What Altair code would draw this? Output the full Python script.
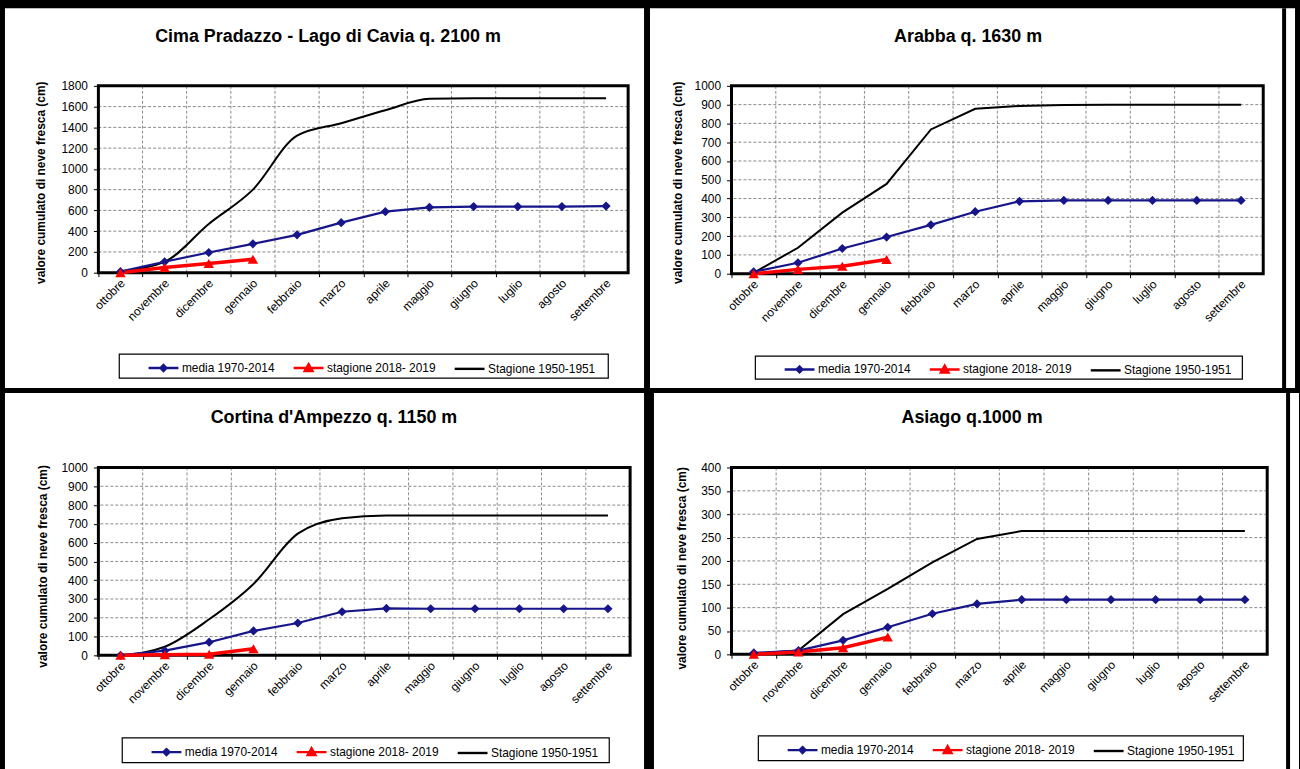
import json
import altair as alt
import pandas as pd

# Month categories of the snow season (October -> September)
MONTHS = ["ottobre", "novembre", "dicembre", "gennaio", "febbraio", "marzo",
          "aprile", "maggio", "giugno", "luglio", "agosto", "settembre"]
SERIES = ["media 1970-2014", "stagione 2018- 2019", "Stagione 1950-1951"]

# Cumulated fresh snow (cm) per station
CIMA_MEDIA = [10, 105, 195, 278, 365, 482, 588, 630, 637, 637, 637, 642]
CIMA_2018 = [0, 51, 89, 130]
CIMA_1950 = [15, 105, 470, 800, 1320, 1440, 1565, 1675, 1680, 1680, 1680, 1680]

ARABBA_MEDIA = [10, 58, 134, 195, 260, 330, 385, 390, 390, 390, 390, 390]
ARABBA_2018 = [0, 23, 40, 76]
ARABBA_1950 = [5, 138, 325, 478, 768, 878, 893, 898, 900, 900, 900, 900]

CORTINA_MEDIA = [0, 25, 70, 130, 172, 232, 250, 248, 248, 248, 248, 248]
CORTINA_2018 = [0, 3, 6, 35]
CORTINA_1950 = [0, 46, 192, 380, 648, 730, 745, 745, 745, 745, 745, 745]

ASIAGO_MEDIA = [3, 8, 30, 58, 87, 108, 117, 117, 117, 117, 117, 117]
ASIAGO_2018 = [0, 5, 14, 37]
ASIAGO_1950 = [2, 8, 86, 140, 197, 247, 264, 264, 264, 264, 264, 264]

FONT = "Liberation Sans"
BLUE = "#16168a"
RED = "#ff0000"
GRID = "#8a8a8a"
YTITLE = "valore cumulato di neve fresca (cm)"

# legend symbols: a line segment with the series marker on top
SYMBOLS = [
    "M-1,0L1,0M0,-0.2L0.2,0L0,0.2L-0.2,0Z",
    "M-1,0L1,0M0,-0.26L0.26,0.2L-0.26,0.2Z",
    "M-1,0L1,0",
]


def series_frame(values):
    return pd.DataFrame({"pos": [i + 0.5 for i in range(len(values))], "val": values})


def panel(title, media, s2018, s1950, ymax, ystep, w, h, lay):
    band = w / 12.0
    yticks = list(range(0, ymax + 1, ystep))
    x_enc = alt.X(
        "pos:Q",
        scale=alt.Scale(domain=[0, 12], nice=False, zero=False),
        axis=alt.Axis(
            values=list(range(12)), labelExpr=json.dumps(MONTHS) + "[datum.value]",
            labelAngle=-45, labelAlign="right", labelBaseline="middle",
            labelOffset=band / 2 + 2, labelPadding=4, labelFontSize=12,
            labelColor="black", labelOverlap=False, labelFlush=False, labelBound=False,
            tickSize=4, tickColor="black", domain=False, grid=False, title=None, zindex=1,
        ),
    )
    y_enc = alt.Y(
        "val:Q",
        scale=alt.Scale(domain=[0, ymax], nice=False),
        axis=alt.Axis(
            values=yticks, format="d", labelFontSize=12, labelColor="black", labelPadding=6,
            labelFlush=False, labelOverlap=False, tickSize=5, tickColor="black",
            domain=False, grid=False, zindex=1,
            title=YTITLE, titleX=lay["ytitle"][0], titleY=lay["ytitle"][1],
            titleAngle=270, titleAlign="center", titleBaseline="middle",
            titleFontSize=12, titleFontWeight="bold", titleColor="black",
        ),
    )
    one = pd.DataFrame({"t": [title]})

    bx0, bx1, by0, by1 = lay["bg"]
    background = alt.Chart(one).mark_rect(color="white").encode(
        x=alt.value(bx0), x2=alt.value(bx1), y=alt.value(by0), y2=alt.value(by1))

    layers = [background]
    if "edge" in lay:
        ex0, ex1 = lay["edge"]
        layers.append(alt.Chart(one).mark_rect(color="black").encode(
            x=alt.value(ex0), x2=alt.value(ex1), y=alt.value(by0), y2=alt.value(by1)))

    ygrid = alt.Chart(pd.DataFrame({"val": yticks[1:-1]})).mark_rule(
        color=GRID, strokeDash=[3, 2], strokeWidth=1).encode(y=y_enc)
    xgrid = alt.Chart(pd.DataFrame({"pos": list(range(1, 12))})).mark_rule(
        color=GRID, strokeDash=[3, 2], strokeWidth=1).encode(x=x_enc)
    frame = alt.Chart(one).mark_rect(fillOpacity=0, stroke="black", strokeWidth=3).encode(
        x=alt.value(0), x2=alt.value(w), y=alt.value(0), y2=alt.value(h))

    df_m = series_frame(media)
    df_r = series_frame(s2018)
    df_b = series_frame(s1950)

    black_line = alt.Chart(df_b).mark_line(
        color="black", strokeWidth=2, interpolate=lay["curve"]).encode(x=x_enc, y=y_enc)
    blue_line = alt.Chart(df_m).mark_line(color=BLUE, strokeWidth=2.2).encode(x=x_enc, y=y_enc)
    blue_pts = alt.Chart(df_m).mark_point(
        shape="diamond", filled=True, size=85, color=BLUE, opacity=1).encode(x=x_enc, y=y_enc)
    red_line = alt.Chart(df_r).mark_line(color=RED, strokeWidth=3.5).encode(x=x_enc, y=y_enc)
    red_pts = alt.Chart(df_r).mark_point(
        shape="triangle-up", filled=True, size=110, color=RED, opacity=1).encode(x=x_enc, y=y_enc)

    tx, ty = lay["title"]
    title_mark = alt.Chart(one).mark_text(
        font=FONT, fontSize=18, fontWeight="bold", color="black",
        align="center", baseline="middle").encode(x=alt.value(tx), y=alt.value(ty), text="t:N")

    lx0, lx1, ly0, ly1 = lay["box"]
    legend_box = alt.Chart(one).mark_rect(
        color="white", stroke="black", strokeWidth=1.2).encode(
        x=alt.value(lx0), x2=alt.value(lx1), y=alt.value(ly0), y2=alt.value(ly1))

    leg = alt.Legend(
        orient="none", legendX=lx0 + 28, legendY=(ly0 + ly1) / 2 - 15,
        direction="horizontal", title=None, symbolSize=900, symbolStrokeWidth=2.4,
        symbolOpacity=1, labelFont=FONT, labelFontSize=12, labelColor="black",
        labelOffset=2, columnPadding=13, padding=0,
    )
    legend_layer = alt.Chart(pd.DataFrame({"serie": SERIES})).transform_filter(
        "false").mark_point(opacity=1, strokeWidth=2.4).encode(
        shape=alt.Shape("serie:N", scale=alt.Scale(domain=SERIES, range=SYMBOLS), legend=leg),
        fill=alt.Fill("serie:N", scale=alt.Scale(domain=SERIES, range=[BLUE, RED, "black"]), legend=leg),
        stroke=alt.Stroke("serie:N", scale=alt.Scale(domain=SERIES, range=[BLUE, RED, "black"]), legend=leg),
    )

    layers += [ygrid, xgrid, frame, black_line, blue_line, red_line, blue_pts, red_pts,
               title_mark, legend_box, legend_layer]
    return alt.layer(*layers).properties(width=w, height=h)


p1 = panel("Cima Pradazzo - Lago di Cavia q. 2100 m", CIMA_MEDIA, CIMA_2018, CIMA_1950,
           1800, 200, 533, 188,
           {"bg": (-94, 549, -78, 304), "title": (231, -49), "ytitle": (-58, 97),
            "box": (21, 513, 270, 294), "curve": "monotone"})
p2 = panel("Arabba q. 1630 m", ARABBA_MEDIA, ARABBA_2018, ARABBA_1950,
           1000, 100, 535, 189,
           {"bg": (-82, 567, -78, 304), "title": (238, -49), "ytitle": (-54, 97),
            "box": (24, 514, 272, 295), "edge": (554, 558), "curve": "linear"})
p3 = panel("Cortina d'Ampezzo q. 1150 m", CORTINA_MEDIA, CORTINA_2018, CORTINA_1950,
           1000, 100, 535, 189,
           {"bg": (-94, 549, -75, 304), "title": (237, -50), "ytitle": (-56, 99),
            "box": (24, 514, 272, 297), "curve": "monotone"})
p4 = panel("Asiago q.1000 m", ASIAGO_MEDIA, ASIAGO_2018, ASIAGO_1950,
           400, 50, 539, 188,
           {"bg": (-78, 571, -75, 304), "title": (242, -50), "ytitle": (-50, 101),
            "box": (27, 515, 270, 295), "edge": (558, 562), "curve": "linear"})

chart = alt.concat(p1, p2, p3, p4, columns=2, spacing={"row": 3, "column": 4}, align="each").resolve_scale(
    shape="independent", fill="independent", stroke="independent"
).resolve_legend(
    shape="independent", fill="independent", stroke="independent"
).configure(
    font=FONT, background="black", padding={"left": 4, "top": 5, "right": 0, "bottom": 0}
).configure_view(stroke="transparent")

chart.save("out.html", embed_options={"renderer": "svg", "actions": False})
